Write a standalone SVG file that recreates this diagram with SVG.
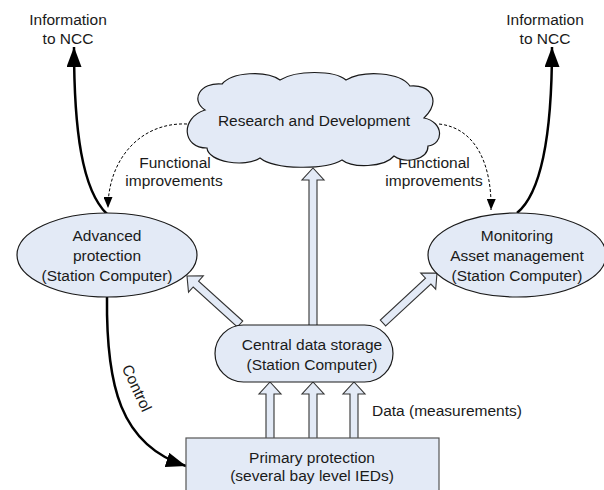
<svg xmlns="http://www.w3.org/2000/svg" width="604" height="490" viewBox="0 0 604 490">
  <style>
    text { font-family: "Liberation Sans", Arial, sans-serif; font-size: 15.5px; fill: #1a1a1a; text-anchor: middle; dominant-baseline: central; }
    .node { fill: #e3eaf6; stroke: #1a1a1a; stroke-width: 1.2; }
    .box { fill: #e3eaf6; stroke: #555; stroke-width: 1.2; }
    .hollow { fill: #e3eaf6; stroke: #333; stroke-width: 1.1; stroke-linejoin: miter; }
    .thick { fill: none; stroke: #000; stroke-width: 2.5; }
    .dashed { fill: none; stroke: #000; stroke-width: 1; stroke-dasharray: 3 2; }
  </style>
  <defs>
    <marker id="bigHead" markerUnits="userSpaceOnUse" viewBox="0 0 20 15" markerWidth="20" markerHeight="15" refX="20" refY="7.5" orient="auto">
      <path d="M0,0 L20,7.5 L0,15 Z" fill="#000"/>
    </marker>
    <marker id="smallHead" markerUnits="userSpaceOnUse" viewBox="0 0 11 9" markerWidth="11" markerHeight="9" refX="11" refY="4.5" orient="auto">
      <path d="M0,0 L11,4.5 L0,9 Z" fill="#000"/>
    </marker>
  </defs>

  <!-- connectors -->
  <g id="connectors">
    <!-- data flow (hollow block arrows) -->
    <polygon class="hollow" points="309,326 309,180 302,180 313,168 324,180 317,180 317,326"/>
    <polygon class="hollow" points="242.7,321 198.6,281.1 203.3,275.9 187,276 188.5,292.2 193.2,287 237.3,327"/>
    <polygon class="hollow" points="385.7,325.9 430.9,284.1 435.7,289.2 437,273 420.7,273.1 425.5,278.2 380.3,320.1"/>
    <polygon class="hollow" points="266,439 266,394 259,394 270,382 281,394 274,394 274,439"/>
    <polygon class="hollow" points="309,439 309,394 302,394 313,382 324,394 317,394 317,439"/>
    <polygon class="hollow" points="350,439 350,394 343,394 354,382 365,394 358,394 358,439"/>

    <!-- functional improvements (dashed) -->
    <path class="dashed" d="M187,124 C140,122 108,160 108,208" marker-end="url(#smallHead)"/>
    <path class="dashed" d="M439,124 C476,128 492,165 491,210" marker-end="url(#smallHead)"/>

    <!-- information to NCC -->
    <path class="thick" d="M107,214 C82,190 74,130 74,47" marker-end="url(#bigHead)"/>
    <path class="thick" d="M517,213 C545,190 552,120 552,47" marker-end="url(#bigHead)"/>

    <!-- control -->
    <path class="thick" d="M107,297 C106,385 120,445 186,466" marker-end="url(#bigHead)"/>
  </g>

  <!-- labels on connectors -->
  <g id="labels">
    <text x="68" y="19">Information</text>
    <text x="68" y="38">to NCC</text>
    <text x="545" y="19">Information</text>
    <text x="545" y="38">to NCC</text>
    <text x="175" y="162">Functional</text>
    <text x="174" y="180">improvements</text>
    <text x="434" y="162">Functional</text>
    <text x="434" y="180">improvements</text>
    <text x="137" y="388" transform="rotate(65 137 388)">Control</text>
    <text x="372" y="410" style="text-anchor:start">Data (measurements)</text>
  </g>

  <!-- research and development cloud -->
  <g id="research">
    <path class="node" d="M205,110 C190,100 200,82 222,84 C232,72 266,70 280,80 C296,70 334,70 346,80 C364,70 400,72 410,86 C430,84 442,100 424,118 C444,122 444,144 428,146 C428,160 405,164 394,156 C384,168 352,168 342,160 C325,170 275,170 260,158 C245,168 208,162 207,148 C182,148 180,118 205,110 Z"/>
    <text x="314" y="120">Research and Development</text>
  </g>

  <!-- advanced protection -->
  <g id="advanced">
    <ellipse class="node" cx="107" cy="255" rx="90" ry="42"/>
    <text x="107" y="235">Advanced</text>
    <text x="107" y="255">protection</text>
    <text x="107" y="275">(Station Computer)</text>
  </g>

  <!-- monitoring / asset management -->
  <g id="monitoring">
    <ellipse class="node" cx="517" cy="255" rx="89" ry="42"/>
    <text x="517" y="235">Monitoring</text>
    <text x="517" y="255">Asset management</text>
    <text x="517" y="275">(Station Computer)</text>
  </g>

  <!-- central data storage -->
  <g id="storage">
    <rect class="node" x="215" y="325" width="178" height="57" rx="28.5" ry="28.5"/>
    <text x="312" y="344">Central data storage</text>
    <text x="312" y="364">(Station Computer)</text>
  </g>

  <!-- primary protection -->
  <g id="primary">
    <rect class="box" x="186" y="438" width="253" height="60"/>
    <text x="312" y="457">Primary protection</text>
    <text x="312" y="475">(several bay level IEDs)</text>
  </g>
</svg>
